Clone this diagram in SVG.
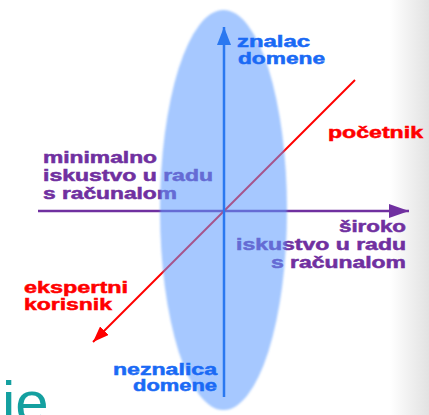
<svg xmlns="http://www.w3.org/2000/svg" width="429" height="415" viewBox="0 0 429 415">
  <defs>
    <linearGradient id="edge" x1="0" y1="0" x2="1" y2="0">
      <stop offset="0" stop-color="#ffffff"/>
      <stop offset="1" stop-color="#e2e2e2"/>
    </linearGradient>
    <filter id="soft" x="-10%" y="-10%" width="120%" height="120%">
      <feGaussianBlur stdDeviation="1"/>
    </filter>
    <marker id="arrPurple" viewBox="0 0 20 14" refX="20" refY="7" markerWidth="20" markerHeight="14" markerUnits="userSpaceOnUse" orient="auto">
      <path d="M0,0 L20,7 L0,14 Z" fill="#7030a0"/>
    </marker>
    <marker id="arrBlue" viewBox="0 0 18 14" refX="18" refY="7" markerWidth="18" markerHeight="14" markerUnits="userSpaceOnUse" orient="auto">
      <path d="M0,0 L18,7 L0,14 Z" fill="#2a78f0"/>
    </marker>
    <marker id="arrRed" viewBox="0 0 16 12" refX="16" refY="6" markerWidth="16" markerHeight="12" markerUnits="userSpaceOnUse" orient="auto">
      <path d="M0,0 L16,6 L0,12 Z" fill="#ff0000"/>
    </marker>
  </defs>
  <style>
    text { font-family: "Liberation Sans", Arial, sans-serif; font-weight: bold; font-size: 16px; stroke-width: 0.5px; }
    .purple { fill: #7030a0; stroke: #7030a0; }
    .red { fill: #ff0000; stroke: #ff0000; }
    .blue { fill: #1a6af5; stroke: #1a6af5; }
  </style>

  <rect x="390" y="0" width="39" height="415" fill="url(#edge)"/>

  <g id="label-minimalno">
    <text class="purple" x="43" y="163" textLength="114" lengthAdjust="spacingAndGlyphs">minimalno</text>
    <text class="purple" x="43" y="181" textLength="170" lengthAdjust="spacingAndGlyphs">iskustvo u radu</text>
    <text class="purple" x="43" y="199" textLength="134" lengthAdjust="spacingAndGlyphs">s računalom</text>
  </g>
  <g id="label-siroko">
    <text class="purple" x="339" y="232" textLength="67" lengthAdjust="spacingAndGlyphs">široko</text>
    <text class="purple" x="236" y="250" textLength="170" lengthAdjust="spacingAndGlyphs">iskustvo u radu</text>
    <text class="purple" x="271" y="268" textLength="135" lengthAdjust="spacingAndGlyphs">s računalom</text>
  </g>
  <g id="label-pocetnik">
    <text class="red" x="328" y="138" textLength="95" lengthAdjust="spacingAndGlyphs">početnik</text>
  </g>
  <g id="label-ekspertni">
    <text class="red" x="24" y="293" textLength="104" lengthAdjust="spacingAndGlyphs">ekspertni</text>
    <text class="red" x="24" y="310" textLength="88" lengthAdjust="spacingAndGlyphs">korisnik</text>
  </g>

  <g id="connectors">
    <line x1="38" y1="211" x2="409" y2="211" stroke="#7030a0" stroke-width="2.5" marker-end="url(#arrPurple)"/>
    <line x1="355" y1="80" x2="93" y2="342" stroke="#ff0000" stroke-width="2" marker-end="url(#arrRed)"/>
  </g>

  <ellipse id="domain-ellipse" cx="223.5" cy="210" rx="63.5" ry="200" fill="#5b9bff" fill-opacity="0.55" filter="url(#soft)"/>

  <g id="connectors-vertical">
    <line x1="224" y1="397" x2="224" y2="27" stroke="#2a78f0" stroke-width="2.5" marker-end="url(#arrBlue)"/>
  </g>

  <g id="label-znalac">
    <text class="blue" x="237" y="47" textLength="73" lengthAdjust="spacingAndGlyphs">znalac</text>
    <text class="blue" x="238" y="64" textLength="87" lengthAdjust="spacingAndGlyphs">domene</text>
  </g>
  <g id="label-neznalica">
    <text class="blue" x="113" y="375" textLength="104" lengthAdjust="spacingAndGlyphs">neznalica</text>
    <text class="blue" x="133" y="391" textLength="84" lengthAdjust="spacingAndGlyphs">domene</text>
  </g>

  <text x="2" y="423" style="font-weight: normal; font-size: 60px; fill: #14a0a0; stroke: none;">ie</text>
</svg>
